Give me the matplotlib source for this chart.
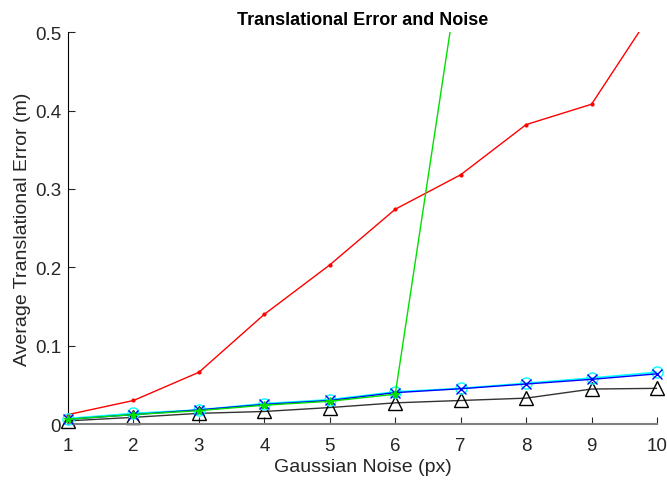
import matplotlib
matplotlib.use("Agg")
import matplotlib.pyplot as plt
import numpy as np

plt.rcParams['font.family'] = ['Liberation Sans', 'DejaVu Sans']

noise = [1, 2, 3, 4, 5, 6, 7, 8, 9, 10]
red_vals = [0.012, 0.030, 0.066, 0.140, 0.203, 0.274, 0.318, 0.382, 0.408, 0.535]
green_vals = [0.006, 0.012, 0.017, 0.024, 0.029, 0.038, 0.590, 1.2, 1.8, 2.4]
blue_vals = [0.006, 0.012, 0.018, 0.025, 0.030, 0.040, 0.045, 0.051, 0.057, 0.064]
cyan_vals = [0.007, 0.0135, 0.018, 0.026, 0.031, 0.041, 0.0455, 0.052, 0.0587, 0.066]
black_vals = [0.004, 0.0085, 0.0136, 0.016, 0.021, 0.027, 0.030, 0.033, 0.0446, 0.0455]

YMAX = 0.5

fig = plt.figure(figsize=(6.67, 4.85), dpi=100)
ax = fig.add_axes([0.102, 0.1237, 0.883, 0.808])

series = [
    (black_vals, dict(color='#333333', lw=1), dict(marker='^', markersize=10, markerfacecolor='none', markeredgecolor='black', markeredgewidth=1), 2),
    (red_vals, dict(color='red', lw=1), dict(marker='.', markersize=4, color='red'), 3),
    (cyan_vals, dict(color='cyan', lw=1.2), dict(marker='o', markersize=8, markerfacecolor='none', markeredgecolor='cyan', markeredgewidth=1), 3),
    (blue_vals, dict(color='blue', lw=1), dict(marker='x', markersize=7, color='blue'), 4),
    (green_vals, dict(color='#00e000', lw=1), dict(marker='*', markersize=6, color='#00e000'), 5),
]
for vals, lkw, mkw, z in series:
    ax.plot(noise, vals, zorder=z, **lkw)
    xs = [x for x, v in zip(noise, vals) if v <= YMAX]
    ys = [v for v in vals if v <= YMAX]
    ax.plot(xs, ys, linestyle='none', clip_on=False, zorder=z, **mkw)

ax.set_xlim(1, 10)
ax.set_ylim(0, YMAX)
ax.set_xticks(noise)
ax.set_yticks([0, 0.1, 0.2, 0.3, 0.4, 0.5])
ax.set_yticklabels(['0', '0.1', '0.2', '0.3', '0.4', '0.5'])
ax.tick_params(direction='in', length=5, labelsize=13.5, colors='#262626')
ax.tick_params(axis='x', pad=9)
ax.tick_params(axis='y', pad=5)
ax.spines['top'].set_visible(False)
ax.spines['right'].set_visible(False)
ax.spines['bottom'].set_color('#808080')
ax.spines['bottom'].set_linewidth(1.5)
ax.set_xlabel('Gaussian Noise (px)', fontsize=14, color='#262626', labelpad=3)
ax.set_ylabel('Average Translational Error (m)', fontsize=14, color='#262626', labelpad=3)
ax.set_title('Translational Error and Noise', fontsize=13, fontweight='bold', pad=6)

fig.savefig('out.png', dpi=100)
